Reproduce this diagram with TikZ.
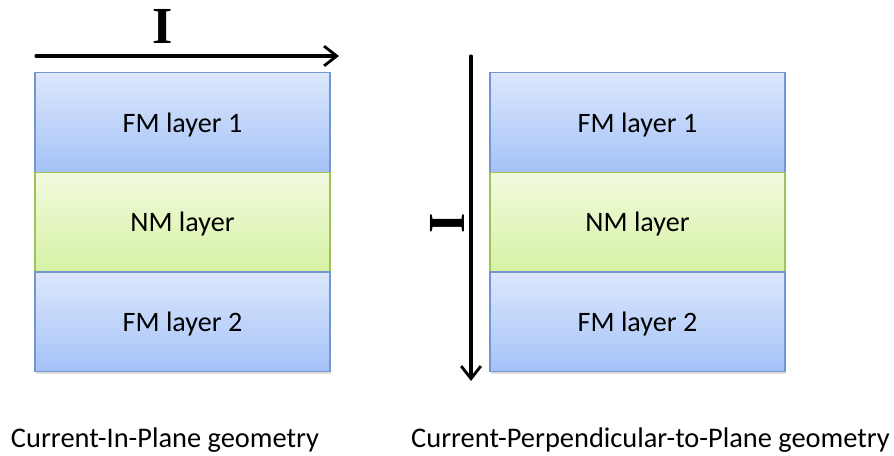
\documentclass[tikz,border=0pt]{standalone}
\usepackage{fontspec}
\setmainfont{Carlito}
\newfontfamily\serifbold{Liberation Serif}
\usepackage{tikz}
\usetikzlibrary{arrows.meta, positioning, shadows}

\definecolor{fmTop}{HTML}{DCE7FC}
\definecolor{fmBot}{HTML}{A4C2F8}
\definecolor{fmLine}{HTML}{7196D0}
\definecolor{nmTop}{HTML}{F2FADF}
\definecolor{nmBot}{HTML}{D6F2A4}
\definecolor{nmLine}{HTML}{9FC25A}

\begin{document}
\begin{tikzpicture}[
    x=0.025cm, y=-0.025cm,
    node distance=0pt,
    layer/.style={rectangle, outer sep=0pt, minimum width=7.375cm, minimum height=2.49cm, line width=0.8pt, text depth=0pt, font=\fontsize{20}{24}\selectfont},
    fm/.style={layer, draw=fmLine, top color=fmTop, bottom color=fmBot},
    nm/.style={layer, draw=nmLine, top color=nmTop, bottom color=nmBot},
    arrow/.style={-{Straight Barb[length=9pt, width=14pt, line width=2pt]}, line width=2.2pt, line cap=round},
    current/.style={font=\serifbold\bfseries\fontsize{37}{37}\selectfont},
    caption/.style={font=\fontsize{20.2}{24}\selectfont}
]
    \useasboundingbox (0,0) rectangle (894,455);

    % Current-In-Plane stack
    \node[fm] (cipTop) at (182.5,122.5) {FM layer 1};
    \node[nm, below=of cipTop] (cipMid) {NM layer};
    \node[fm, below=of cipMid, drop shadow={shadow xshift=1pt, shadow yshift=-2pt, opacity=0.25}] (cipBot) {FM layer 2};

    % Current-Perpendicular-to-Plane stack
    \node[fm] (cppTop) at (637.5,122.5) {FM layer 1};
    \node[nm, below=of cppTop] (cppMid) {NM layer};
    \node[fm, below=of cppMid, drop shadow={shadow xshift=1pt, shadow yshift=-2pt, opacity=0.25}] (cppBot) {FM layer 2};

    % current arrows
    \coordinate (cipStart) at (36,56);
    \coordinate (cipEnd) at (339,56);
    \draw[arrow] (cipStart) -- (cipEnd);
    \node[current] (cipI) at (163,26) {I};

    \coordinate (cppStart) at (471,56);
    \coordinate (cppEnd) at (471,381);
    \draw[arrow] (cppStart) -- (cppEnd);
    \node[current, rotate=90] (cppI) at (447,223) {I};

    % captions
    \node[caption] (cipText) at (165,440) {Current-In-Plane geometry};
    \node[caption] (cppText) at (650.5,440) {Current-Perpendicular-to-Plane geometry};
\end{tikzpicture}
\end{document}
